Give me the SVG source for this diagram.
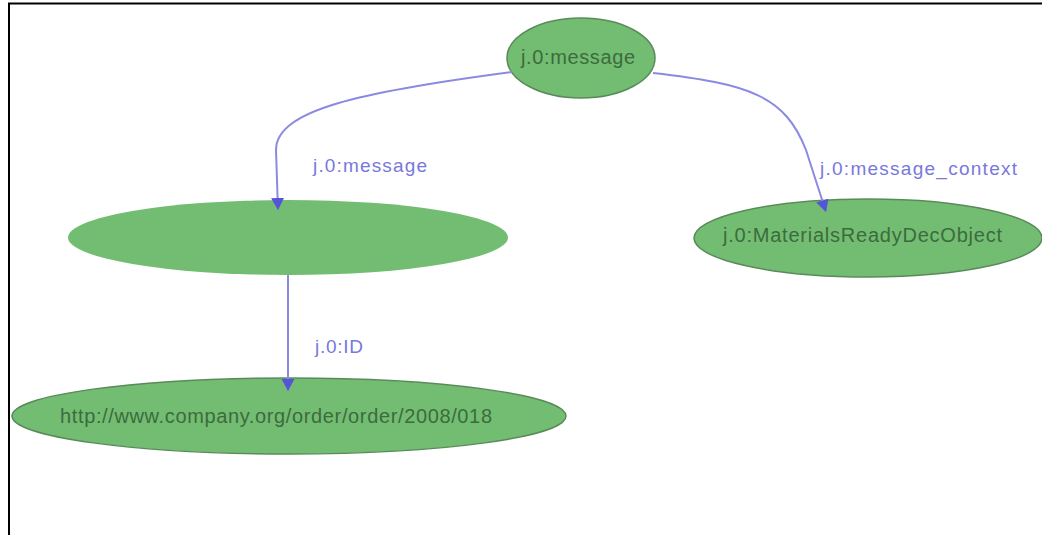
<svg xmlns="http://www.w3.org/2000/svg" width="1042" height="535" viewBox="0 0 1042 535">
  <style>
    .node { fill: #72bd72; stroke: #5a8a5a; stroke-width: 1.5; }
    .blank { fill: #72bd72; stroke: none; }
    .nlabel { font-family: "Liberation Sans", Arial, sans-serif; font-size: 20px; fill: #3d6b3d; }
    .edge { fill: none; stroke: #8a8ae2; stroke-width: 2; }
    .elabel { font-family: "Liberation Sans", Arial, sans-serif; font-size: 19px; fill: #7878dc; }
  </style>
  <defs>
    <marker id="arrow" markerWidth="14" markerHeight="14" refX="12" refY="7" orient="auto" markerUnits="userSpaceOnUse">
      <path d="M0,0.5 L12,7 L0,13.5 Z" fill="#5454d6"/>
    </marker>
  </defs>
  <rect x="0" y="0" width="1042" height="535" fill="#ffffff"/>
  <path d="M9,535 V3.5 H1042" fill="none" stroke="#000000" stroke-width="2"/>

  <g id="node-message">
    <ellipse class="node" cx="581" cy="58" rx="74" ry="40"/>
    <text class="nlabel" x="521" y="64" textLength="114" lengthAdjust="spacing">j.0:message</text>
  </g>
  <g id="node-blank">
    <ellipse class="blank" cx="288" cy="237.5" rx="220" ry="37.5"/>
  </g>
  <g id="node-materials">
    <ellipse class="node" cx="868" cy="238" rx="174" ry="39"/>
    <text class="nlabel" x="723" y="242" textLength="279" lengthAdjust="spacing">j.0:MaterialsReadyDecObject</text>
  </g>
  <g id="node-http">
    <ellipse class="node" cx="289" cy="416" rx="277" ry="38"/>
    <text class="nlabel" x="60" y="423" textLength="432" lengthAdjust="spacing">http://www.company.org/order/order/2008/018</text>
  </g>

  <g id="connectors">
    <path class="edge" d="M512,72 C360,92 276,110 276,150 L278,210" marker-end="url(#arrow)"/>
    <path class="edge" d="M653,73 C750,84 785,96 806,150 L826,212" marker-end="url(#arrow)"/>
    <path class="edge" d="M288,275 L288,391" marker-end="url(#arrow)"/>
    <text class="elabel" x="313" y="172" textLength="114" lengthAdjust="spacing">j.0:message</text>
    <text class="elabel" x="820" y="175" textLength="197" lengthAdjust="spacing">j.0:message_context</text>
    <text class="elabel" x="315" y="353" textLength="48" lengthAdjust="spacing">j.0:ID</text>
  </g>
</svg>
